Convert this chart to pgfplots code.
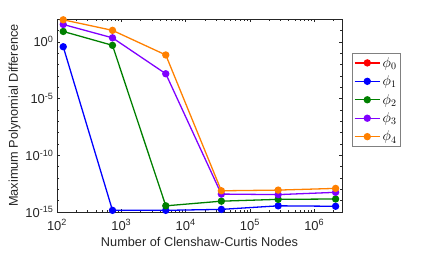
\documentclass[border=0pt]{standalone}
\usepackage{pgfplots}
\pgfplotsset{compat=1.18}
\usepackage{fontspec}
\setmainfont{Liberation Sans}
\definecolor{cred}{rgb}{1,0,0}
\definecolor{cblue}{rgb}{0,0,1}
\definecolor{cgreen}{rgb}{0,0.5,0}
\definecolor{cpurple}{rgb}{0.5,0,1}
\definecolor{corange}{rgb}{1,0.5,0}
\definecolor{axgray}{rgb}{0.15,0.15,0.15}
\begin{document}
\begin{tikzpicture}
\begin{axis}[
  scale only axis, width=285bp, height=193bp,
  xmode=log, ymode=log,
  xmin=100, xmax=2.7e6, ymin=1e-15, ymax=100,
  xtick={1e2,1e3,1e4,1e5,1e6},
  xticklabels={10\textsuperscript{2},10\textsuperscript{3},10\textsuperscript{4},10\textsuperscript{5},10\textsuperscript{6}},
  minor xtick={200,300,400,500,600,700,800,900,2000,3000,4000,5000,6000,7000,8000,9000,20000,30000,40000,50000,60000,70000,80000,90000,200000,300000,400000,500000,600000,700000,800000,900000,2000000},
  ytick={1e-15,1e-10,1e-5,1},
  yticklabels={10\textsuperscript{-15},10\textsuperscript{-10},10\textsuperscript{-5},10\textsuperscript{0}},
  minor ytick={1e-14,1e-13,1e-12,1e-11,1e-9,1e-8,1e-7,1e-6,1e-4,1e-3,1e-2,1e-1,1e1},
  tick align=inside,
  major tick length=3bp, minor tick length=1.8bp,
  axis line style={axgray},
  every tick/.style={axgray},
  tick label style={font=\fontsize{13}{15}\selectfont, text=axgray},
  xticklabel style={yshift=-4bp},
  label style={font=\fontsize{12.8}{15}\selectfont, text=axgray},
  xlabel={Number of Clenshaw-Curtis Nodes},
  ylabel={Maximum Polynomial Difference},
  ylabel style={yshift=-2bp},
  every axis plot/.append style={line width=1.3pt, mark=*, mark size=3bp},
  legend style={at={(1.034,0.824)}, anchor=north west, draw=gray, font=\fontsize{14}{16}\selectfont, row sep=3bp, inner sep=2bp},
  legend image code/.code={\draw[mark repeat=2,mark phase=2] plot coordinates {(0cm,0cm) (0.45cm,0cm) (0.9cm,0cm)};},
  legend cell align=left,
]
\addlegendimage{cred, line width=1.3pt, mark=*, mark size=3bp}
\addlegendentry{$\phi_0$}
\addplot[cblue] coordinates {(125,0.36) (729,1.4e-15) (4913,1.4e-15) (35937,1.7e-15) (274625,3.5e-15) (2146689,3.2e-15)};
\addlegendentry{$\phi_1$}
\addplot[cgreen] coordinates {(125,8) (729,0.48) (4913,3.5e-15) (35937,9e-15) (274625,1.3e-14) (2146689,1.4e-14)};
\addlegendentry{$\phi_2$}
\addplot[cpurple] coordinates {(125,33) (729,2.2) (4913,1.5e-3) (35937,3.8e-14) (274625,3.4e-14) (2146689,5.4e-14)};
\addlegendentry{$\phi_3$}
\addplot[corange] coordinates {(125,85) (729,10) (4913,0.068) (35937,7.4e-14) (274625,8.5e-14) (2146689,1.2e-13)};
\addlegendentry{$\phi_4$}
\end{axis}
\useasboundingbox (-57bp,-45bp) rectangle (379bp,212bp);
\end{tikzpicture}
\end{document}
